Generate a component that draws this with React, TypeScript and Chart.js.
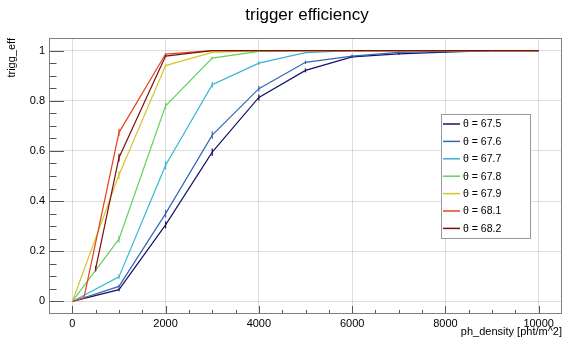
import { useEffect, useRef } from "react";
import { Chart, registerables } from "chart.js";

Chart.register(...registerables);

// ---- data ----
const xMain = [0, 1000, 2000, 3000, 4000, 5000, 6000, 7000, 8000, 9000, 10000];
const x681 = [0, 250, 1000, 2000, 3000, 4000, 5000, 6000, 7000, 8000, 9000, 10000];
const x682 = [500, 1000, 2000, 3000, 4000, 5000, 6000, 7000, 8000, 9000, 10000];

const eff675 = [0, 0.047, 0.305, 0.595, 0.813, 0.921, 0.975, 0.987, 0.994, 1.0, 1.0];
const eff676 = [0, 0.06, 0.35, 0.663, 0.848, 0.953, 0.978, 0.993, 0.997, 1.0, 1.0];
const eff677 = [0, 0.098, 0.543, 0.864, 0.95, 0.992, 1.0, 1.0, 1.0, 1.0, 1.0];
const eff678 = [0, 0.248, 0.78, 0.97, 0.997, 1.0, 1.0, 1.0, 1.0, 1.0, 1.0];
const eff679 = [0, 0.504, 0.94, 0.993, 1.0, 1.0, 1.0, 1.0, 1.0, 1.0, 1.0];
const eff681 = [0, 0.015, 0.673, 0.986, 1.0, 1.0, 1.0, 1.0, 1.0, 1.0, 1.0, 1.0];
const eff682 = [0.13, 0.573, 0.978, 1.0, 1.0, 1.0, 1.0, 1.0, 1.0, 1.0, 1.0];

const err675 = [0, 0.006, 0.014, 0.015, 0.012, 0.008, 0.005, 0.004, 0.003, 0.001, 0];
const err676 = [0, 0.007, 0.015, 0.015, 0.011, 0.007, 0.005, 0.003, 0.002, 0.001, 0];
const err677 = [0, 0.009, 0.016, 0.011, 0.007, 0.003, 0.001, 0, 0, 0, 0];
const err678 = [0, 0.014, 0.013, 0.005, 0.002, 0, 0, 0, 0, 0, 0];
const err679 = [0, 0.016, 0.007, 0.003, 0, 0, 0, 0, 0, 0, 0];
const err681 = [0, 0.004, 0.015, 0.004, 0, 0, 0, 0, 0, 0, 0, 0];
const err682 = [0.011, 0.016, 0.004, 0, 0, 0, 0, 0, 0, 0, 0];

const seriesLabels = ["θ = 67.5", "θ = 67.6", "θ = 67.7", "θ = 67.8", "θ = 67.9", "θ = 68.1", "θ = 68.2"];
const seriesColors = ["#141466", "#3466b4", "#35b5d5", "#62d15e", "#d3c62b", "#e2451f", "#7e0d0d"];
const seriesX = [xMain, xMain, xMain, xMain, xMain, x681, x682];
const seriesY = [eff675, eff676, eff677, eff678, eff679, eff681, eff682];
const seriesErr = [err675, err676, err677, err678, err679, err681, err682];

const xTicks = [0, 2000, 4000, 6000, 8000, 10000];
const yTicks = [0, 0.2, 0.4, 0.6, 0.8, 1];
const xMinorStep = 500;
const yMinorStep = 0.05;

const titleText = "trigger efficiency";
const xTitle = "ph_density [pht/m^2]";
const yTitle = "trigg_eff";

const FONT = "'Liberation Sans', Arial, Helvetica, sans-serif";

const rootPlugin = {
  id: "rootDecor",
  afterDatasetsDraw(chart: any) {
    const ctx = chart.ctx;
    const ys = chart.scales.y;
    const area = chart.chartArea;
    ctx.save();
    ctx.beginPath();
    ctx.rect(area.left, area.top, area.right - area.left, area.bottom - area.top);
    ctx.clip();
    seriesErr.forEach((errs, d) => {
      const meta = chart.getDatasetMeta(d);
      ctx.strokeStyle = seriesColors[d];
      ctx.lineWidth = 1.2;
      meta.data.forEach((pt: any, i: number) => {
        const e = errs[i];
        if (!e) return;
        const v = seriesY[d][i];
        ctx.beginPath();
        ctx.moveTo(pt.x, ys.getPixelForValue(v + e));
        ctx.lineTo(pt.x, ys.getPixelForValue(v - e));
        ctx.stroke();
      });
    });
    ctx.restore();
  },
  afterDraw(chart: any) {
    const ctx = chart.ctx;
    const xs = chart.scales.x;
    const ys = chart.scales.y;
    const a = chart.chartArea;
    ctx.save();
    // tick marks inside frame
    ctx.strokeStyle = "#555";
    ctx.lineWidth = 1;
    ctx.beginPath();
    for (let v = xs.min; v <= xs.max + 1e-6; v += xMinorStep) {
      const px = Math.round(xs.getPixelForValue(v)) + 0.5;
      if (px <= a.left + 1 || px >= a.right - 1) continue;
      const major = Math.abs(v % 2000) < 1e-6;
      const len = major ? 8 : 4;
      ctx.moveTo(px, a.bottom);
      ctx.lineTo(px, a.bottom - len);
    }
    for (let k = -1; k <= 21; k++) {
      const v = k * yMinorStep;
      if (v < ys.min || v > ys.max) continue;
      const py = Math.round(ys.getPixelForValue(v)) + 0.5;
      if (py <= a.top + 1 || py >= a.bottom - 1) continue;
      const major = k % 4 === 0;
      const len = major ? 15 : 7.5;
      ctx.moveTo(a.left, py);
      ctx.lineTo(a.left + len, py);
    }
    ctx.stroke();
    // frame
    ctx.strokeStyle = "#808080";
    ctx.lineWidth = 1;
    ctx.strokeRect(Math.round(a.left) + 0.5, Math.round(a.top) + 0.5, Math.round(a.right - a.left) - 1, Math.round(a.bottom - a.top) - 1);

    // titles
    ctx.fillStyle = "#000";
    ctx.font = `17px ${FONT}`;
    ctx.textAlign = "center";
    ctx.textBaseline = "middle";
    ctx.fillText(titleText, 307, 15);

    ctx.font = `11px ${FONT}`;
    ctx.textAlign = "right";
    ctx.textBaseline = "middle";
    ctx.fillText(xTitle, a.right, 332);

    ctx.save();
    ctx.translate(12, a.top);
    ctx.rotate(-Math.PI / 2);
    ctx.textAlign = "right";
    ctx.textBaseline = "middle";
    ctx.fillText(yTitle, 0, 0);
    ctx.restore();

    // legend
    const lx = 441, ly = 114, lw = 89, lh = 124;
    ctx.fillStyle = "#fff";
    ctx.fillRect(lx, ly, lw, lh);
    ctx.strokeStyle = "#999";
    ctx.lineWidth = 1;
    ctx.strokeRect(lx + 0.5, ly + 0.5, lw, lh);
    ctx.font = `10.5px ${FONT}`;
    ctx.textAlign = "left";
    ctx.textBaseline = "middle";
    seriesLabels.forEach((lab, i) => {
      const cy = 124 + i * 17.4;
      ctx.strokeStyle = seriesColors[i];
      ctx.lineWidth = 1.5;
      ctx.beginPath();
      ctx.moveTo(443, cy);
      ctx.lineTo(460, cy);
      ctx.stroke();
      ctx.fillStyle = "#000";
      ctx.fillText(lab, 463, cy + 0.5);
    });
    ctx.restore();
  },
};

export default function App() {
  const ref = useRef<HTMLCanvasElement | null>(null);
  useEffect(() => {
    if (!ref.current) return;
    const datasets = seriesLabels.map((lab, i) => ({
      label: lab,
      data: seriesX[i].map((x, j) => ({ x, y: seriesY[i][j] })),
      borderColor: seriesColors[i],
      backgroundColor: seriesColors[i],
      borderWidth: 1.2,
      pointRadius: 0,
      tension: 0,
      fill: false,
      order: seriesLabels.length - 1 - i,
    }));
    const chart = new Chart(ref.current, {
      type: "line",
      data: { datasets },
      options: {
        responsive: false,
        animation: false,
        devicePixelRatio: 1,
        layout: { padding: { top: 38, right: 4, left: 0, bottom: 0 } },
        plugins: { legend: { display: false }, tooltip: { enabled: false }, title: { display: false } },
        scales: {
          x: {
            type: "linear",
            min: -500,
            max: 10500,
            afterBuildTicks: (s: any) => {
              s.ticks = xTicks.map((v) => ({ value: v }));
            },
            afterFit: (s: any) => {
              s.height = 25;
            },
            grid: { color: "rgba(0,0,0,0.13)", lineWidth: 1, drawTicks: false },
            border: { display: false },
            ticks: {
              color: "#000",
              font: { family: FONT, size: 11 },
              padding: 3,
              maxRotation: 0,
              autoSkip: false,
              callback: (v: any) => String(v),
            },
          },
          y: {
            type: "linear",
            min: -0.05,
            max: 1.05,
            afterBuildTicks: (s: any) => {
              s.ticks = yTicks.map((v) => ({ value: v }));
            },
            afterFit: (s: any) => {
              s.width = 49;
            },
            grid: { color: "rgba(0,0,0,0.13)", lineWidth: 1, drawTicks: false },
            border: { display: false },
            ticks: {
              color: "#000",
              font: { family: FONT, size: 11 },
              padding: 4,
              autoSkip: false,
              callback: (v: any) => String(Math.round(v * 10) / 10),
            },
          },
        },
      },
      plugins: [rootPlugin],
    } as any);
    return () => chart.destroy();
  }, []);
  return (
    <div style={{ position: "fixed", left: 0, top: 0, width: 566, height: 339, background: "#fff" }}>
      <canvas ref={ref} width={566} height={339} style={{ width: 566, height: 339 }} />
    </div>
  );
}
